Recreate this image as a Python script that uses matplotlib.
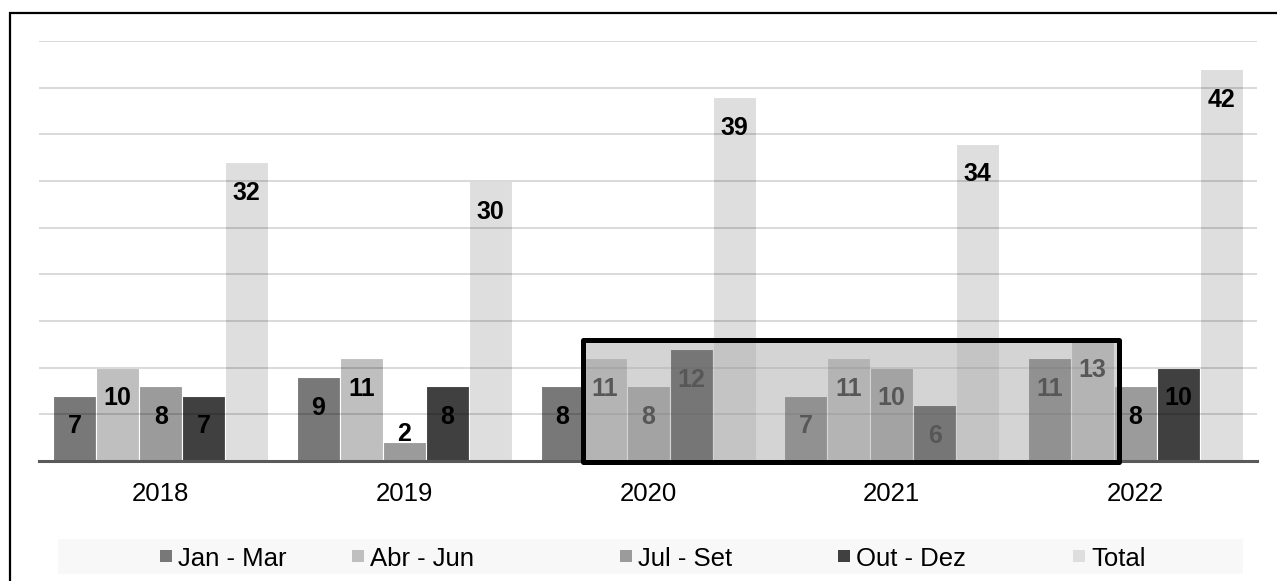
import numpy as np
import matplotlib.pyplot as plt
from matplotlib.patches import Rectangle

plt.rcParams['font.family'] = ['Liberation Sans', 'DejaVu Sans']

# Quarterly counts per year
years = ['2018', '2019', '2020', '2021', '2022']
series_names = ['Jan - Mar', 'Abr - Jun', 'Jul - Set', 'Out - Dez', 'Total']
jan_mar = [7, 9, 8, 7, 11]
abr_jun = [10, 11, 11, 11, 13]
jul_set = [8, 2, 8, 10, 8]
out_dez = [7, 8, 12, 6, 10]
total = [32, 30, 39, 34, 42]

colors = ['#787878', '#bfbfbf', '#9b9b9b', '#404040', '#dedede']

W, H = 1277, 581
fig = plt.figure(figsize=(W / 100, H / 100), dpi=100)
ax = fig.add_axes([39 / W, 1 - 461 / H, (1257 - 39) / W, (461 - 41) / H])

x = np.arange(len(years))
bar_w = 43 / 243.6
offsets = (np.arange(5) - 2) * bar_w

all_series = [jan_mar, abr_jun, jul_set, out_dez, total]
for i, vals in enumerate(all_series):
    bars = ax.bar(x + offsets[i], vals, width=bar_w, color=colors[i],
                  edgecolor='white', linewidth=0.8, zorder=1)
    for rect, v in zip(bars, vals):
        cx = rect.get_x() + rect.get_width() / 2
        if v < 4:
            # short bar: put the number just above it
            ax.annotate(str(v), (cx, v), xytext=(0, 1), textcoords='offset points',
                        ha='center', va='baseline', fontsize=18, fontweight='bold',
                        color='black', zorder=3)
        else:
            ax.annotate(str(v), (cx, v), xytext=(0, -13.5), textcoords='offset points',
                        ha='center', va='top', fontsize=18, fontweight='bold',
                        color='black', zorder=3)

ax.set_xlim(-0.5, len(years) - 0.5)
ax.set_ylim(0, 45)
ax.set_yticks(np.arange(0, 46, 5))
ax.set_yticklabels([])
ax.tick_params(axis='y', length=0)
ax.set_xticks(x)
ax.set_xticklabels(years, fontsize=18.5)
ax.tick_params(axis='x', length=0, pad=15)

ax.set_axisbelow(False)
ax.yaxis.grid(True, color='black', alpha=0.16, linewidth=1.3)
ax.xaxis.grid(False)
for side in ['top', 'left', 'right']:
    ax.spines[side].set_visible(False)
ax.spines['bottom'].set_color('#595959')
ax.spines['bottom'].set_linewidth(2.2)
ax.spines['bottom'].set_zorder(2.6)

# highlight box over 2020-2022
box_x0, box_x1, box_top = 1.733, 3.933, 13
ax.add_patch(Rectangle((box_x0, -0.15), box_x1 - box_x0, box_top + 0.15,
                       facecolor='#ababab', alpha=0.51, edgecolor='none',
                       zorder=4, clip_on=False))
ax.add_patch(Rectangle((box_x0, -0.15), box_x1 - box_x0, box_top + 0.15,
                       facecolor='none', edgecolor='black', linewidth=3.6,
                       joinstyle='round', zorder=5, clip_on=False))

# outer frame
fig.patches.append(Rectangle((10 / W, -0.05), 1.1, 1 - 13 / H + 0.05,
                             transform=fig.transFigure, facecolor='none',
                             edgecolor='black', linewidth=1.6))

# legend band with square markers
fig.patches.append(Rectangle((58 / W, 1 - 574 / H), (1243 - 58) / W, 35 / H,
                             transform=fig.transFigure, facecolor='#f8f8f8',
                             edgecolor='none'))
legend_left = [160, 352, 620, 838, 1073]
ly = 1 - 556 / H
for name, col, lx in zip(series_names, colors, legend_left):
    fig.patches.append(Rectangle((lx / W, ly - 6 / H), 12 / W, 12 / H,
                                 transform=fig.transFigure, facecolor=col,
                                 edgecolor='none'))
    fig.text((lx + 18) / W, ly, name, fontsize=18.5, ha='left', va='center_baseline')

fig.savefig('out.png', dpi=100, facecolor='white')
